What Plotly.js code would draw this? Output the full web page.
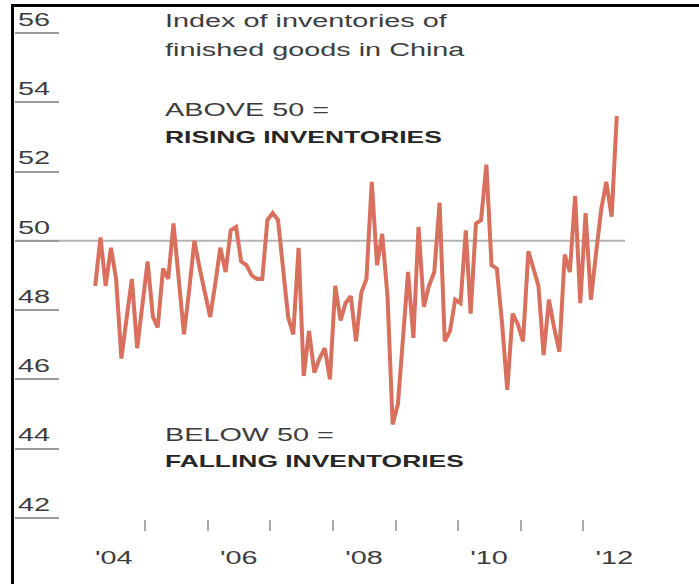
<!DOCTYPE html>
<html>
<head>
<meta charset="utf-8">
<script src="https://cdn.plot.ly/plotly-3.0.1.min.js"></script>
<style>
  html, body { margin: 0; padding: 0; background: #fff; }
  #wrap { position: relative; width: 699px; height: 584px; overflow: hidden; }
  #chart { width: 699px; height: 584px; }
  #frame {
    position: absolute; left: 11px; top: 4px; right: 0; bottom: 0;
    border-left: 3px solid #000; border-top: 3px solid #000;
    pointer-events: none;
  }
</style>
</head>
<body>
<div id="wrap">
  <div id="chart"></div>
  <div id="frame"></div>
</div>
<script>
// Monthly readings, March 2004 to July 2012
const months = [
  '2004-03-15','2004-04-15','2004-05-15','2004-06-15','2004-07-15','2004-08-15','2004-09-15','2004-10-15','2004-11-15','2004-12-15',
  '2005-01-15','2005-02-15','2005-03-15','2005-04-15','2005-05-15','2005-06-15','2005-07-15','2005-08-15','2005-09-15','2005-10-15','2005-11-15','2005-12-15',
  '2006-01-15','2006-02-15','2006-03-15','2006-04-15','2006-05-15','2006-06-15','2006-07-15','2006-08-15','2006-09-15','2006-10-15','2006-11-15','2006-12-15',
  '2007-01-15','2007-02-15','2007-03-15','2007-04-15','2007-05-15','2007-06-15','2007-07-15','2007-08-15','2007-09-15','2007-10-15','2007-11-15','2007-12-15',
  '2008-01-15','2008-02-15','2008-03-15','2008-04-15','2008-05-15','2008-06-15','2008-07-15','2008-08-15','2008-09-15','2008-10-15','2008-11-15','2008-12-15',
  '2009-01-15','2009-02-15','2009-03-15','2009-04-15','2009-05-15','2009-06-15','2009-07-15','2009-08-15','2009-09-15','2009-10-15','2009-11-15','2009-12-15',
  '2010-01-15','2010-02-15','2010-03-15','2010-04-15','2010-05-15','2010-06-15','2010-07-15','2010-08-15','2010-09-15','2010-10-15','2010-11-15','2010-12-15',
  '2011-01-15','2011-02-15','2011-03-15','2011-04-15','2011-05-15','2011-06-15','2011-07-15','2011-08-15','2011-09-15','2011-10-15','2011-11-15','2011-12-15',
  '2012-01-15','2012-02-15','2012-03-15','2012-04-15','2012-05-15','2012-06-15','2012-07-15'
];

const inventoryIndex = [
  48.7, 50.1, 48.7, 49.8, 48.9, 46.6, 47.8, 48.9, 46.9, 48.2,
  49.4, 47.8, 47.5, 49.2, 48.9, 50.5, 48.9, 47.3, 48.6, 50.0, 49.2, 48.5,
  47.8, 48.8, 49.8, 49.1, 50.3, 50.4, 49.4, 49.3, 49.0, 48.9, 48.9, 50.6,
  50.8, 50.6, 49.2, 47.8, 47.3, 49.8, 46.1, 47.4, 46.2, 46.6, 46.9, 46.0,
  48.7, 47.7, 48.2, 48.4, 47.1, 48.5, 48.9, 51.7, 49.3, 50.2, 48.4, 44.7,
  45.3, 47.2, 49.1, 47.2, 50.4, 48.1, 48.7, 49.1, 51.1, 47.1, 47.4, 48.3,
  48.2, 50.3, 47.9, 50.5, 50.6, 52.2, 49.3, 49.2, 47.6, 45.7, 47.9, 47.6,
  47.1, 49.7, 49.2, 48.7, 46.7, 48.3, 47.5, 46.8, 49.6, 49.1, 51.3, 48.2,
  50.8, 48.3, 49.6, 50.9, 51.7, 50.7, 53.6
];

// Year boundaries carry tick marks; year labels sit mid-year
const yearTickDates = ['2005-01-01','2006-01-01','2007-01-01','2008-01-01','2009-01-01','2010-01-01','2011-01-01','2012-01-01'];
const yearLabelDates = ['2004-07-01','2006-07-01','2008-07-01','2010-07-01','2012-07-01'];
const yearLabels = ["'04", "'06", "'08", "'10", "'12"];
const yTicks = [42, 44, 46, 48, 50, 52, 54, 56];

const FONT = 'Liberation Sans, Arial, Helvetica, sans-serif';
const TEXT = '#3d3d3d';
const xRange = ['2002-12-03', '2012-09-01'];

const series = {
  type: 'scatter',
  mode: 'lines',
  x: months,
  y: inventoryIndex,
  line: { color: '#d9705d', width: 4, shape: 'linear' },
  hoverinfo: 'skip'
};

// Empty carrier so the year-label axis gets drawn
const labelAxisCarrier = {
  type: 'scatter', mode: 'lines',
  x: yearLabelDates, y: yearLabelDates.map(() => null),
  xaxis: 'x2', yaxis: 'y', hoverinfo: 'skip', showlegend: false
};

function note(text, y, bold) {
  return {
    xref: 'paper', yref: 'paper', x: 0.2445, y: y,
    xanchor: 'left', yanchor: 'middle', align: 'left',
    showarrow: false, borderpad: 0,
    text: bold ? '<b>' + text + '</b>' : text,
    font: { family: FONT, size: bold ? 16.5 : 18, color: bold ? '#262626' : TEXT }
  };
}

// plot area: 42 sits at y=518 px, 56 at y=33 px (34.64 px per unit)
const PLOT_TOP = 7, PLOT_BOTTOM = 519, PLOT_H = PLOT_BOTTOM - PLOT_TOP;
function py(px) { return (PLOT_BOTTOM - px) / PLOT_H; }

const layout = {
  width: 699, height: 584,
  margin: { l: 15, r: 74, t: PLOT_TOP, b: 584 - PLOT_BOTTOM },
  paper_bgcolor: '#fff', plot_bgcolor: '#fff',
  showlegend: false,
  xaxis: {
    type: 'date', range: xRange,
    tickmode: 'array', tickvals: yearTickDates, ticktext: yearTickDates.map(() => ''),
    ticks: 'outside', ticklen: 11, tickwidth: 2, tickcolor: '#aaaaaa',
    showgrid: false, zeroline: false, showline: false
  },
  xaxis2: {
    type: 'date', range: xRange, overlaying: 'x', anchor: 'y', side: 'bottom',
    tickmode: 'array', tickvals: yearLabelDates, ticktext: yearLabels,
    ticks: 'outside', ticklen: 22, tickcolor: 'rgba(0,0,0,0)',
    tickfont: { family: FONT, size: 18, color: TEXT },
    showgrid: false, zeroline: false, showline: false
  },
  yaxis: {
    range: [41.97, 56.75],
    tickmode: 'array', tickvals: yTicks,
    ticks: 'inside', ticklen: 44, tickwidth: 2, tickcolor: '#9a9a9a',
    ticklabelposition: 'inside top',
    tickfont: { family: FONT, size: 18, color: TEXT },
    showgrid: false, zeroline: false, showline: false
  },
  shapes: [{
    type: 'line', layer: 'below',
    xref: 'paper', x0: 0, x1: 1, yref: 'y', y0: 50, y1: 50,
    line: { color: '#b3b3b3', width: 2 }
  }],
  annotations: [
    note('Index of inventories of', py(21), false),
    note('finished goods in China', py(50), false),
    note('ABOVE 50 =', py(110), false),
    note('RISING INVENTORIES', py(137), true),
    note('BELOW 50 =', py(435), false),
    note('FALLING INVENTORIES', py(461), true)
  ]
};

// The lettering of this graphic is set wide; stretch each label horizontally
const STRETCH = 1.6;
function widenText(root) {
  root.querySelectorAll('text.annotation-text, g.xtick text, g.x2tick text, g.ytick text').forEach(t => {
    const w = t.getComputedTextLength();
    if (w > 0) {
      t.setAttribute('textLength', (w * STRETCH).toFixed(1));
      t.setAttribute('lengthAdjust', 'spacingAndGlyphs');
    }
  });
}

const el = document.getElementById('chart');
Plotly.newPlot(el, [series, labelAxisCarrier], layout, { staticPlot: true, displayModeBar: false })
  .then(() => widenText(el));
</script>
</body>
</html>
